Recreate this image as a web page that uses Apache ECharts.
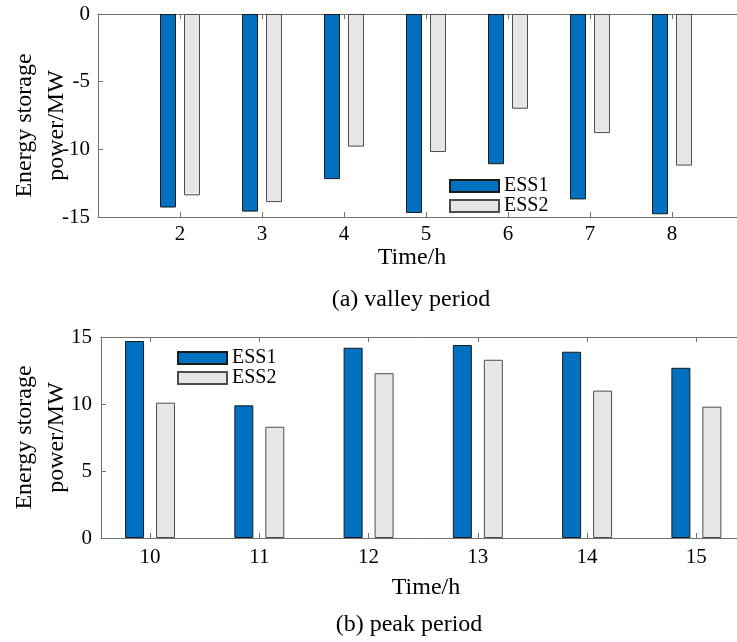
<!DOCTYPE html>
<html><head><meta charset="utf-8">
<script src="https://cdn.jsdelivr.net/npm/echarts@6/dist/echarts.min.js"></script>
<style>html,body{margin:0;padding:0;background:#fff}#c{width:737px;height:642px}</style>
</head><body><div id="c"></div>
<script>
// ---- data ----
const valleyHours = [2, 3, 4, 5, 6, 7, 8];
const valleyESS1 = [-14.3, -14.6, -12.2, -14.7, -11.1, -13.7, -14.8];
const valleyESS2 = [-13.4, -13.9, -9.8, -10.2, -7.0, -8.8, -11.2];
const peakHours = [10, 11, 12, 13, 14, 15];
const peakESS1 = [14.7, 9.9, 14.2, 14.4, 13.9, 12.7];
const peakESS2 = [10.1, 8.3, 12.3, 13.3, 11.0, 9.8];
const seriesNames = ['ESS1', 'ESS2'];
const yName = 'Energy storage\npower/MW';
const xName = 'Time/h';
const captionA = '(a) valley period';
const captionB = '(b) peak period';

// ---- style ----
const FONT = "'Liberation Serif','Times New Roman',serif";
const AX = '#707070';
const C1 = '#0070C0', C2 = '#E6E6E6';

function xAx(grid, min, max, ticks, pos, showLabel, gap, margin, pad) {
  const a = {
    type: 'value', gridIndex: grid, min: min, max: max, position: pos,
    axisLine: { show: true, onZero: false, lineStyle: { color: AX, width: 1 } },
    axisTick: { show: true, inside: true, length: 5, customValues: ticks, lineStyle: { color: AX } },
    axisLabel: { show: showLabel, customValues: ticks, fontSize: 21, fontFamily: FONT, color: '#000', margin: margin },
    splitLine: { show: false }
  };
  if (showLabel) {
    a.name = xName; a.nameLocation = 'middle'; a.nameGap = gap; a.nameMoveOverlap = false;
    a.nameTextStyle = { fontSize: 24, fontFamily: FONT, color: '#000', padding: pad };
  }
  return a;
}
function yAx(grid, min, max, margin, gap, pad) {
  return {
    type: 'value', gridIndex: grid, min: min, max: max, interval: 5,
    axisLine: { show: true, onZero: false, lineStyle: { color: AX, width: 1 } },
    axisTick: { show: true, inside: true, length: 5, lineStyle: { color: AX } },
    axisLabel: { fontSize: 21, fontFamily: FONT, color: '#000', margin: margin },
    splitLine: { show: false },
    name: yName, nameLocation: 'middle', nameGap: gap, nameMoveOverlap: false,
    nameTextStyle: { fontSize: 24, fontFamily: FONT, color: '#000', lineHeight: 32, padding: pad }
  };
}
function bar(name, xi, hours, vals, w, gap, color, border) {
  return {
    type: 'bar', name: name, xAxisIndex: xi, yAxisIndex: xi / 2,
    data: hours.map((h, i) => [h, vals[i]]),
    barWidth: w, barGap: gap,
    itemStyle: { color: color, borderColor: border, borderWidth: 1 },
    emphasis: { disabled: true }
  };
}
function leg(left, top) {
  return {
    orient: 'vertical', left: left, top: top, padding: 0, itemGap: 0,
    itemWidth: 49, itemHeight: 12, icon: 'rect', selectedMode: false,
    data: seriesNames,
    textStyle: { fontSize: 20, lineHeight: 18, fontFamily: FONT, color: '#000' }
  };
}

const chart = echarts.init(document.getElementById('c'), null, { renderer: 'canvas' });
chart.setOption({
  animation: false,
  backgroundColor: '#fff',
  grid: [
    { left: 98, top: 14, width: 656, height: 203, containLabel: false, outerBoundsMode: 'none' },
    { left: 101, top: 337, width: 650, height: 201, containLabel: false, outerBoundsMode: 'none' }
  ],
  xAxis: [
    xAx(0, 1, 9, valleyHours, 'bottom', true, 29, 7, [0, 28, 0, 0]),
    xAx(0, 1, 9, valleyHours, 'top', false),
    xAx(1, 9.551, 15.5, peakHours, 'bottom', true, 38, 9, [0, 0, 0, 0]),
    xAx(1, 9.551, 15.5, peakHours, 'top', false)
  ],
  yAxis: [
    yAx(0, -15, 0, 8, 25, [0, 20, 0, 0]),
    yAx(1, 0, 15, 9, 28, [0, 0, 0, 0])
  ],
  legend: [leg(449, 176), leg(177, 348)],
  series: [
    bar(seriesNames[0], 0, valleyHours, valleyESS1, 16, '50%', C1, '#1a1a1a'),
    bar(seriesNames[1], 0, valleyHours, valleyESS2, 16, '50%', C2, '#4d4d4d'),
    bar(seriesNames[0], 2, peakHours, peakESS1, 19, '63%', C1, '#1a1a1a'),
    bar(seriesNames[1], 2, peakHours, peakESS2, 19, '63%', C2, '#4d4d4d')
  ],
  graphic: [
    { type: 'text', x: 411, y: 300, style: { text: captionA, align: 'center', verticalAlign: 'middle', fontSize: 24, fontFamily: FONT, fill: '#000' } },
    { type: 'text', x: 409, y: 625, style: { text: captionB, align: 'center', verticalAlign: 'middle', fontSize: 24, fontFamily: FONT, fill: '#000' } }
  ]
});
</script>
</body></html>
